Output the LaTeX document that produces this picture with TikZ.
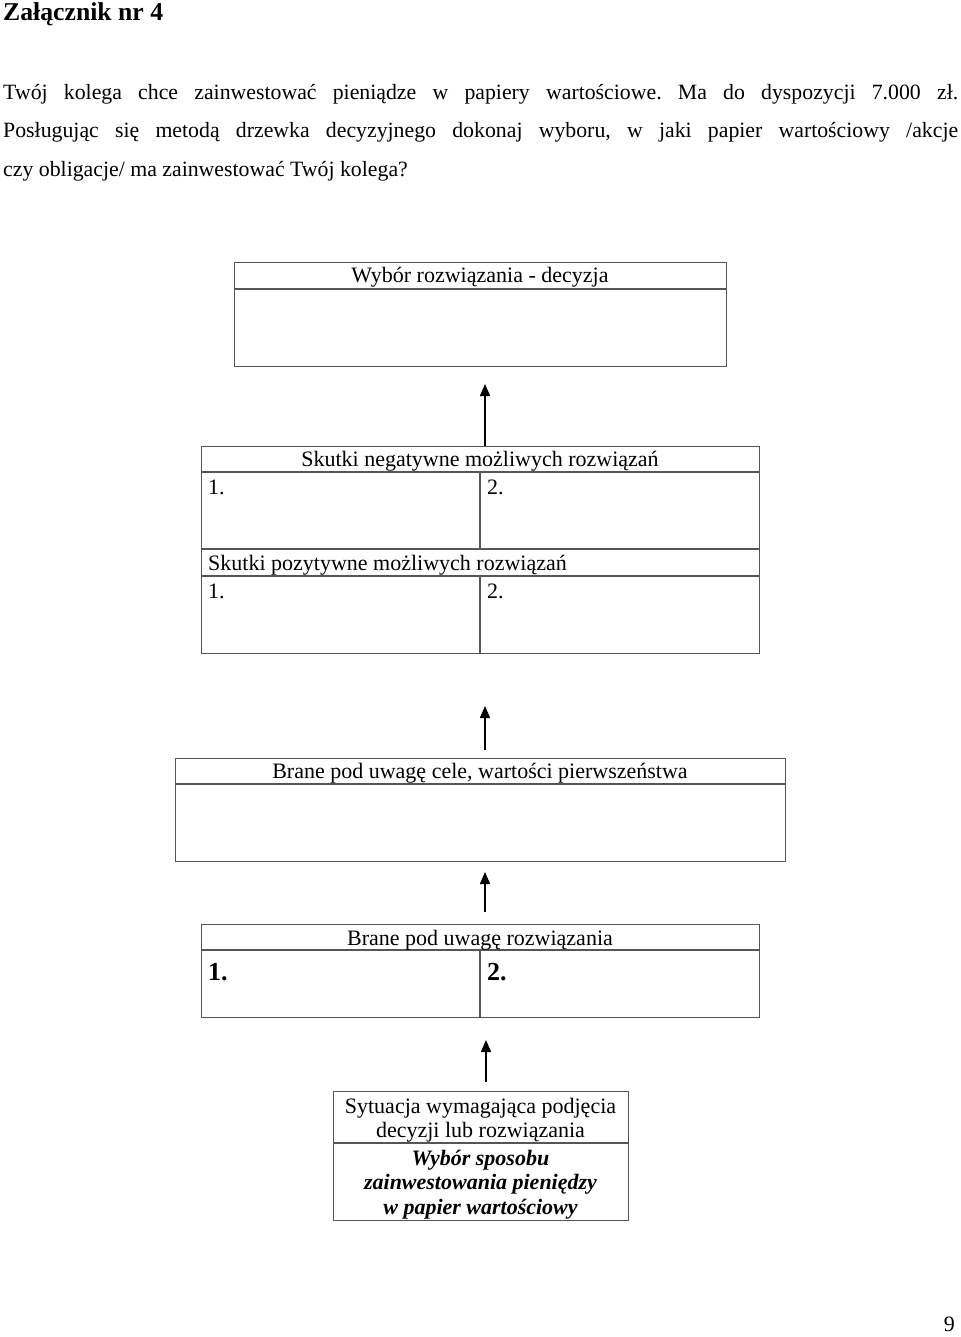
\documentclass[tikz,border=0pt]{standalone}
\usepackage{fontspec}
\setmainfont{Liberation Serif}
\usetikzlibrary{arrows.meta}
\definecolor{boxgray}{RGB}{85,85,85}
\frenchspacing
\begin{document}
\begin{tikzpicture}[x=1pt,y=-1pt,
  box/.style={draw=boxgray,line width=1.4pt,inner sep=0pt,anchor=north west},
  sep/.style={draw=boxgray,line width=1.4pt},
  txt/.style={inner sep=0pt,anchor=base,font=\fontsize{22}{26}\selectfont},
  ltxt/.style={txt,anchor=base west},
  btxt/.style={txt,font=\fontsize{22}{26}\selectfont\bfseries\itshape},
  bnum/.style={inner sep=0pt,anchor=base west,font=\fontsize{26}{30}\selectfont\bfseries},
  body/.style={inner sep=0pt,anchor=base west,font=\fontsize{21.8}{38}\selectfont},
  arr/.style={line width=1.5pt,-{Triangle[length=12pt,width=10pt]}}]
\useasboundingbox (0,0) rectangle (960,1337);
% heading and task text
\node[inner sep=0pt,anchor=base west,font=\fontsize{25.7}{30}\selectfont\bfseries] (title) at (3,21) {Załącznik nr 4};
\node[body] (l1) at (3,100) {\makebox[955pt][s]{Twój kolega chce zainwestować pieniądze w papiery wartościowe. Ma do dyspozycji 7.000 zł.}};
\node[body] (l2) at (3,138) {\makebox[955pt][s]{Posługując się metodą drzewka decyzyjnego dokonaj wyboru, w jaki papier wartościowy /akcje}};
\node[body] (l3) at (3,177) {czy obligacje/ ma zainwestować Twój kolega?};
% box 1
\node[box,minimum width=492pt,minimum height=104pt] (b1) at (234,262) {};
\draw[sep] (234,289) -- (726,289);
\node[txt] (b1h) at (480,283) {Wybór rozwiązania - decyzja};
% box 2
\node[box,minimum width=558pt,minimum height=207pt] (b2) at (201,446) {};
\draw[sep] (201,472) -- (759,472);
\draw[sep] (201,549) -- (759,549);
\draw[sep] (201,576) -- (759,576);
\draw[sep] (480,472) -- (480,549);
\draw[sep] (480,576) -- (480,653);
\node[txt] (b2h) at (480,466) {Skutki negatywne możliwych rozwiązań};
\node[ltxt] (b2n1) at (208,494) {1.};
\node[ltxt] (b2n2) at (487,494) {2.};
\node[ltxt] (b2p) at (208,570) {Skutki pozytywne możliwych rozwiązań};
\node[ltxt] (b2p1) at (208,598) {1.};
\node[ltxt] (b2p2) at (487,598) {2.};
% box 3
\node[box,minimum width=610pt,minimum height=103pt] (b3) at (175,758) {};
\draw[sep] (175,784) -- (785,784);
\node[txt] (b3h) at (480,778) {Brane pod uwagę cele, wartości pierwszeństwa};
% box 4
\node[box,minimum width=558pt,minimum height=93pt] (b4) at (201,924) {};
\draw[sep] (201,950) -- (759,950);
\draw[sep] (480,950) -- (480,1017);
\node[txt] (b4h) at (480,945) {Brane pod uwagę rozwiązania};
\node[bnum] (b4n1) at (208,980) {1.};
\node[bnum] (b4n2) at (487,980) {2.};
% box 5
\node[box,minimum width=295pt,minimum height=129pt] (b5) at (333,1091) {};
\draw[sep] (333,1143) -- (628,1143);
\node[txt] (b5a) at (480.5,1113) {Sytuacja wymagająca podjęcia};
\node[txt] (b5b) at (480.5,1137) {decyzji lub rozwiązania};
\node[btxt] (b5c) at (480.5,1165) {Wybór sposobu};
\node[btxt] (b5d) at (480.5,1189) {zainwestowania pieniędzy};
\node[btxt] (b5e) at (480.5,1214) {w papier wartościowy};
% arrows
\coordinate (a1s) at (485,446);
\coordinate (a1e) at (485,384);
\coordinate (a2s) at (485,750);
\coordinate (a2e) at (485,706);
\coordinate (a3s) at (485,912);
\coordinate (a3e) at (485,872);
\coordinate (a4s) at (486,1082);
\coordinate (a4e) at (486,1040);
\draw[arr] (a1s) -- (a1e);
\draw[arr] (a2s) -- (a2e);
\draw[arr] (a3s) -- (a3e);
\draw[arr] (a4s) -- (a4e);
% page number
\node[inner sep=0pt,anchor=base east,font=\fontsize{22}{26}\selectfont] (pg) at (955,1331) {9};
\end{tikzpicture}
\end{document}
